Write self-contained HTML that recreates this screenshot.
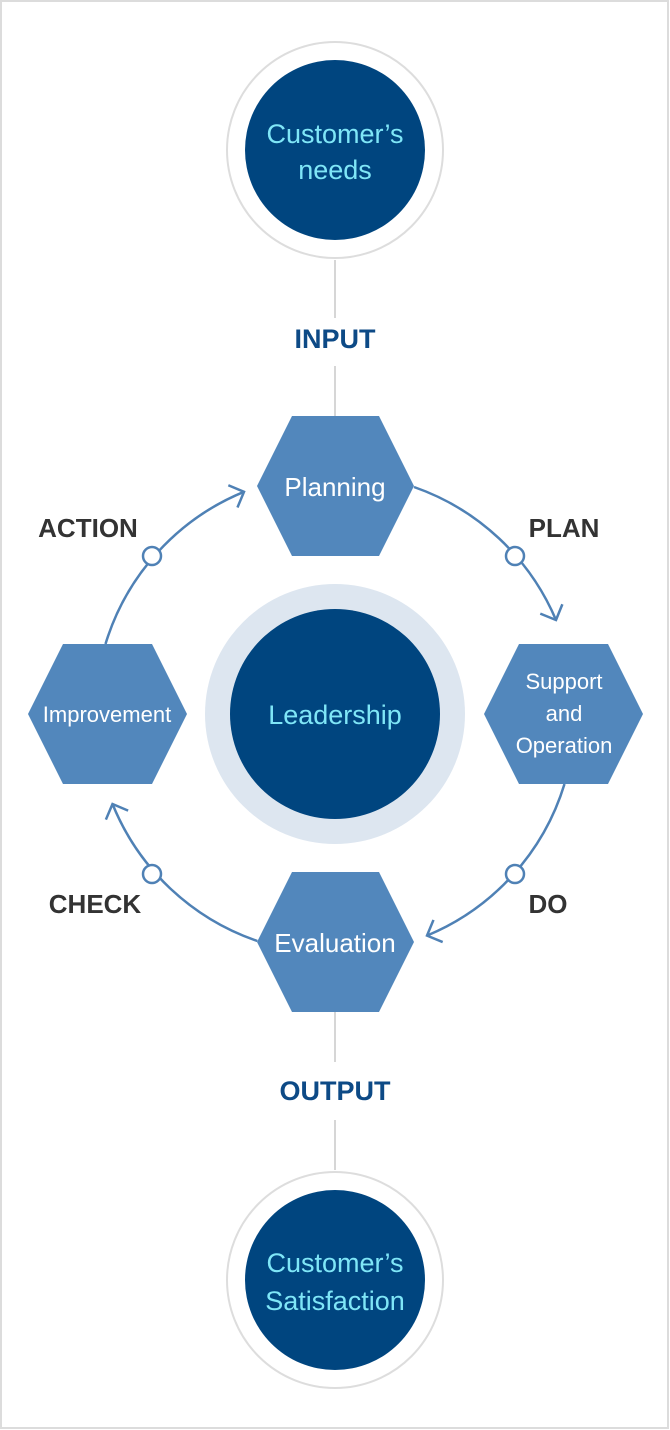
<!DOCTYPE html>
<html><head><meta charset="utf-8"><style>
html,body{margin:0;padding:0;background:#fff}
svg{display:block}
text{font-family:"Liberation Sans","Noto Sans CJK KR",sans-serif}
</style></head><body>
<svg width="670" height="1430" viewBox="0 0 670 1430" xmlns="http://www.w3.org/2000/svg">
<defs>
<marker id="ar" markerUnits="userSpaceOnUse" markerWidth="40" markerHeight="40" refX="20" refY="20" orient="auto" viewBox="0 0 40 40">
<path d="M8,8 L20,20 L8,32" fill="none" stroke="#4f81b5" stroke-width="2.5"/>
</marker>
</defs>
<rect x="1" y="1" width="667" height="1427" fill="#fff" stroke="#dcdcdc" stroke-width="2"/>
<g stroke="#d6d6d6" stroke-width="2">
<line x1="335" y1="260" x2="335" y2="318"/>
<line x1="335" y1="366" x2="335" y2="416"/>
<line x1="335" y1="1012" x2="335" y2="1062"/>
<line x1="335" y1="1120" x2="335" y2="1170"/>
</g>
<circle cx="335" cy="150" r="108" fill="#fff" stroke="#dddddd" stroke-width="2"/>
<circle cx="335" cy="150" r="90" fill="#00457f"/>
<text x="335" y="143" text-anchor="middle" font-size="27" fill="#7fe6f7">Customer’s</text>
<text x="335" y="179" text-anchor="middle" font-size="27" fill="#7fe6f7">needs</text>
<text x="335" y="348" text-anchor="middle" font-size="27" font-weight="bold" fill="#0d4a86">INPUT</text>
<g fill="none" stroke="#4f81b5" stroke-width="2.5">
<path d="M414,487 A240,240 0 0 1 556,620" marker-end="url(#ar)"/>
<path d="M564.5,784 A240,240 0 0 1 427,935.6" marker-end="url(#ar)"/>
<path d="M257.3,941 A240,240 0 0 1 112.5,804" marker-end="url(#ar)"/>
<path d="M105.5,644 A240,240 0 0 1 244,491.8" marker-end="url(#ar)"/>
</g>
<g fill="#fff" stroke="#4f81b5" stroke-width="2.5">
<circle cx="515" cy="556" r="9"/>
<circle cx="515" cy="874" r="9"/>
<circle cx="152" cy="874" r="9"/>
<circle cx="152" cy="556" r="9"/>
</g>
<circle cx="335" cy="714" r="130" fill="#dde6f0"/>
<circle cx="335" cy="714" r="105" fill="#00457f"/>
<text x="335" y="724" text-anchor="middle" font-size="27" fill="#7fe6f7">Leadership</text>
<g fill="#5287bc">
<polygon points="257,486 292,416 379,416 414,486 379,556 292,556"/>
<polygon points="484,714 519,644 608,644 643,714 608,784 519,784"/>
<polygon points="28,714 63,644 152,644 187,714 152,784 63,784"/>
<polygon points="257,942 292,872 379,872 414,942 379,1012 292,1012"/>
</g>
<g fill="#fff" text-anchor="middle">
<text x="335" y="496" font-size="26">Planning</text>
<text x="564" y="689" font-size="22">Support</text>
<text x="564" y="721" font-size="22">and</text>
<text x="564" y="753" font-size="22">Operation</text>
<text x="107" y="722" font-size="22">Improvement</text>
<text x="335" y="952" font-size="26">Evaluation</text>
</g>
<g font-size="26" font-weight="bold" fill="#333" text-anchor="middle">
<text x="564" y="537">PLAN</text>
<text x="88" y="537">ACTION</text>
<text x="548" y="913">DO</text>
<text x="95" y="913">CHECK</text>
</g>
<text x="335" y="1100" text-anchor="middle" font-size="27" font-weight="bold" fill="#0d4a86">OUTPUT</text>
<circle cx="335" cy="1280" r="108" fill="#fff" stroke="#dddddd" stroke-width="2"/>
<circle cx="335" cy="1280" r="90" fill="#00457f"/>
<text x="335" y="1272" text-anchor="middle" font-size="27" fill="#7fe6f7">Customer’s</text>
<text x="335" y="1310" text-anchor="middle" font-size="27" fill="#7fe6f7">Satisfaction</text>
</svg>
</body></html>
